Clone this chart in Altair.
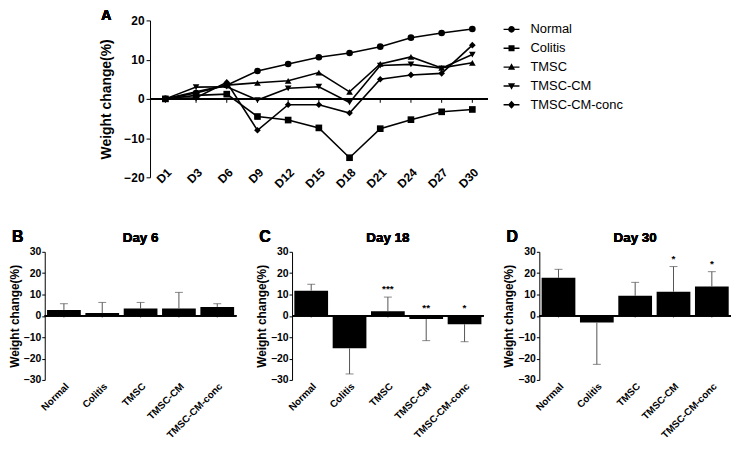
import altair as alt
import pandas as pd

days = ["D1", "D3", "D6", "D9", "D12", "D15", "D18", "D21", "D24", "D27", "D30"]
groups = ["Normal", "Colitis", "TMSC", "TMSC-CM", "TMSC-CM-conc"]
normal = [0, 1.5, 3.5, 7.1, 8.9, 10.6, 11.7, 13.3, 15.6, 16.8, 17.8]
colitis = [0, 0.9, 1.2, -4.5, -5.4, -7.4, -15.0, -7.6, -5.3, -3.3, -2.7]
tmsc = [0, 1.8, 3.5, 4.1, 4.6, 6.7, 1.8, 8.9, 10.7, 7.9, 9.2]
tmsc_cm = [0, 3.0, 3.1, -0.3, 2.7, 3.1, -0.9, 8.5, 8.8, 7.8, 11.3]
tmsc_cm_conc = [0, 0.3, 4.2, -8.0, -1.5, -1.5, -3.6, 5.0, 6.1, 6.5, 13.7]

day6_mean = [2.8, 1.3, 3.4, 3.4, 4.2]
day6_err = [5.7, 6.3, 6.3, 11.0, 5.7]
day18_mean = [11.8, -15.2, 2.2, -1.5, -3.9]
day18_err = [14.8, -27.2, 8.8, -11.6, -12.1]
day30_mean = [17.8, -3.1, 9.4, 11.3, 13.7]
day30_err = [21.8, -22.7, 15.7, 23.1, 20.7]
day6_sig = ["", "", "", "", ""]
day18_sig = ["", "", "***", "**", "*"]
day30_sig = ["", "", "", "*", "*"]

FONT = "Liberation Sans"

series = [normal, colitis, tmsc, tmsc_cm, tmsc_cm_conc]
rows = []
for g, vals in zip(groups, series):
    for d, v in zip(days, vals):
        rows.append({"day": d, "group": g, "value": v})
line_df = pd.DataFrame(rows)

shapes_plot = ["circle", "square", "triangle-up", "triangle-down", "diamond"]
LN = "M-1,-0.09H1V0.09H-1Z"
shapes_legend = [
    LN + "M0.42,0A0.42,0.42,0,1,1,-0.42,0A0.42,0.42,0,1,1,0.42,0Z",
    LN + "M-0.38,-0.38H0.38V0.38H-0.38Z",
    LN + "M0,-0.48L0.45,0.34H-0.45Z",
    LN + "M0,0.48L-0.45,-0.34H0.45Z",
    LN + "M0,-0.5L0.45,0L0,0.5L-0.45,0Z",
]

TOP_W, TOP_H = 340, 158
xs = alt.X("day:N", sort=days, scale=alt.Scale(type="point", padding=0.5),
           axis=alt.Axis(title=None, labelAngle=-45, domain=False, ticks=False,
                         labelFont=FONT, labelFontWeight="bold", labelFontSize=12,
                         labelColor="black", labelPadding=-11))
ys = alt.Y("value:Q", scale=alt.Scale(domain=[-20, 20], nice=False),
           axis=alt.Axis(title="Weight change(%)", values=[-20, -10, 0, 10, 20],
                         tickCount=20, labelOverlap=False,
                         titleFont=FONT, titleFontWeight="bold", titleFontSize=14,
                         titleColor="black", titlePadding=10,
                         labelFont=FONT, labelFontWeight="bold", labelFontSize=12,
                         labelColor="black", grid=False, domainColor="black",
                         tickColor="black", tickSize=4))

base = alt.Chart(line_df)
lines = base.mark_line(color="black", strokeWidth=1.6).encode(
    x=xs, y=ys, detail="group:N")
pts = base.mark_point(filled=True, color="black", opacity=1, size=45).encode(
    x=xs, y=ys,
    shape=alt.Shape("group:N", sort=groups,
                    scale=alt.Scale(domain=groups, range=shapes_plot), legend=None))
leg = base.mark_point(filled=True, color="black", opacity=0).encode(
    x=xs, y=ys,
    shape=alt.Shape("group:N", sort=groups,
                    scale=alt.Scale(domain=groups, range=shapes_legend),
                    legend=alt.Legend(title=None, orient="right", offset=15,
                                      symbolSize=256, symbolOpacity=1,
                                      symbolFillColor="black",
                                      labelFont=FONT, labelFontSize=13,
                                      labelColor="black", labelOffset=10,
                                      rowPadding=3)))
zero_df = pd.DataFrame({"day": days})
zline = alt.Chart(zero_df).mark_rule(color="black", strokeWidth=1.2).encode(y=alt.datum(0))
zticks = alt.Chart(zero_df).mark_rule(color="black", strokeWidth=1).encode(
    x=xs, y=alt.datum(0), y2=alt.datum(-1))
letterA = alt.Chart(zero_df).mark_text(
    text="A", font=FONT, fontWeight="bold", fontSize=14, align="left", baseline="top"
).encode(x=alt.value(-49), y=alt.value(-11))

top_chart = alt.layer(zline, zticks, lines, pts, leg, letterA).resolve_scale(
    shape="independent").properties(width=TOP_W, height=TOP_H)

spacer = alt.Chart(zero_df).mark_text(text="").encode(
    x=alt.value(0), y=alt.value(0)).properties(width=55, height=TOP_H)

top_row = alt.hconcat(spacer, top_chart, spacing=0)

BAR_W, BAR_H = 193, 129


def bar_panel(title, letter, means, errs, sigs):
    df = pd.DataFrame({"group": groups, "mean": means, "err": errs, "sig": sigs})
    df["sy"] = df["err"].clip(lower=0)
    bx = alt.X("group:N", sort=groups,
               scale=alt.Scale(paddingInner=0.12, paddingOuter=0.06),
               axis=alt.Axis(title=None, labelAngle=-45, domain=False, ticks=False,
                             labelFont=FONT, labelFontWeight="bold", labelFontSize=10,
                             labelColor="black", labelPadding=1))
    by = alt.Y("mean:Q", scale=alt.Scale(domain=[-30, 30], nice=False),
               axis=alt.Axis(title="Weight change(%)", values=[-30, -20, -10, 0, 10, 20, 30],
                             tickCount=20, labelOverlap=False,
                             titleFont=FONT, titleFontWeight="bold", titleFontSize=12,
                             titleColor="black", titlePadding=2,
                             labelFont=FONT, labelFontWeight="bold", labelFontSize=10.5,
                             labelColor="black", labelPadding=1, grid=False,
                             domainColor="black", tickColor="black", tickSize=3))
    b = alt.Chart(df)
    bars = b.mark_bar(color="black").encode(x=bx, y=by)
    ebar = b.mark_rule(color="#555555", strokeWidth=1).encode(
        x=bx, y=alt.Y("mean:Q"), y2="err:Q")
    ecap = b.mark_tick(color="#555555", thickness=1, size=8, orient="horizontal").encode(
        x=bx, y=alt.Y("err:Q"))
    stars = b.mark_text(font=FONT, fontSize=10, fontWeight="bold", dy=-8,
                        color="black").encode(
        x=bx, y=alt.Y("sy:Q"), text="sig:N")
    z = b.mark_rule(color="black", strokeWidth=1.2).encode(y=alt.datum(0))
    zt = b.mark_rule(color="black", strokeWidth=1).encode(
        x=bx, y=alt.datum(0), y2=alt.datum(-0.7))
    let = b.mark_text(text=letter, font=FONT, fontWeight="bold", fontSize=16,
                      align="left", baseline="alphabetic").encode(
        x=alt.value(-33), y=alt.value(-10))
    ttl = b.mark_text(text=title, font=FONT, fontWeight="bold", fontSize=13.5,
                      align="center", baseline="alphabetic").encode(
        x=alt.value(BAR_W / 2), y=alt.value(-10))
    return alt.layer(bars, ebar, ecap, stars, z, zt, let, ttl).properties(
        width=BAR_W, height=BAR_H)


pB = bar_panel("Day 6", "B", day6_mean, day6_err, day6_sig)
pC = bar_panel("Day 18", "C", day18_mean, day18_err, day18_sig)
pD = bar_panel("Day 30", "D", day30_mean, day30_err, day30_sig)

bottom_row = alt.hconcat(pB, pC, pD, spacing=18)

chart = alt.vconcat(top_row, bottom_row, spacing=39).properties(
    padding={"left": 0, "top": 0, "right": 0, "bottom": 0}
).configure_view(stroke=None).configure_concat(spacing=0)

chart.save("out.html", embed_options={"renderer": "svg", "actions": False})
